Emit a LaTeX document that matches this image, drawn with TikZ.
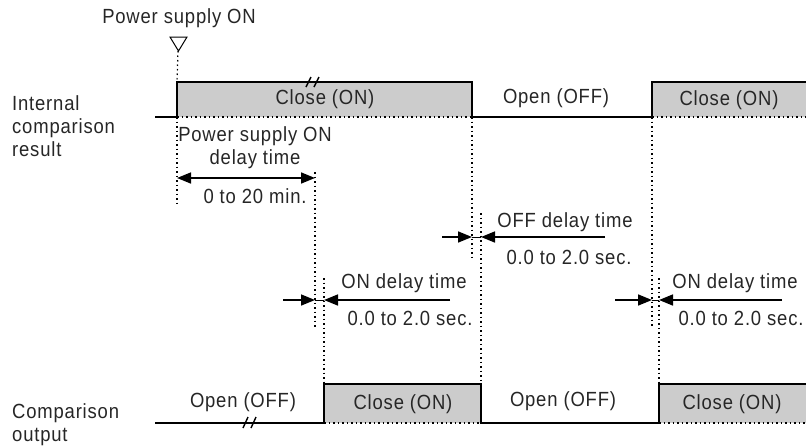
\documentclass[tikz,border=0pt]{standalone}
\usepackage{fontspec}
\setmainfont{Liberation Sans}[FakeStretch=0.9,LetterSpace=4]
\usetikzlibrary{arrows.meta}
\begin{document}
\begin{tikzpicture}[x=1pt,y=-1pt,
  sig/.style={line width=1.8pt,line join=miter},
  dots/.style={line width=1.2pt,dash pattern=on 1.5pt off 3pt},
  box/.style={fill=gray!40,draw=none},
  arr/.style={line width=1.6pt,-{Triangle[length=14pt,width=11pt]}},
  dbl/.style={line width=1.6pt,{Triangle[length=14pt,width=11pt]}-{Triangle[length=14pt,width=11pt]}},
  thin/.style={line width=1pt},
  brk/.style={line width=1.4pt},
  lbl/.style={font=\fontsize{20.5}{23}\selectfont,inner sep=0pt,text=black!85},
  lft/.style={lbl,anchor=west,align=left}]
\useasboundingbox (0,0) rectangle (806,445);
% coordinates
\coordinate (tL) at (155,117);
\coordinate (t1b) at (177,117); \coordinate (t1h) at (177,82);
\coordinate (t2h) at (472,82); \coordinate (t2b) at (472,117);
\coordinate (t3b) at (652,117); \coordinate (t3h) at (652,82);
\coordinate (tRh) at (806,82); \coordinate (tRb) at (806,117);
\coordinate (bL) at (155,423);
\coordinate (b1b) at (324,423); \coordinate (b1h) at (324,384);
\coordinate (b2h) at (481,384); \coordinate (b2b) at (481,423);
\coordinate (b3b) at (659,423); \coordinate (b3h) at (659,384);
\coordinate (bRh) at (806,384); \coordinate (bRb) at (806,423);
% gray boxes
\fill[box] (t1h) rectangle (t2b);
\fill[box] (t3h) rectangle (tRb);
\fill[box] (b1h) rectangle (b2b);
\fill[box] (b3h) rectangle (bRb);
\draw[dots] (t1b) -- (t2b);
\draw[dots] (t3b) -- (tRb);
\draw[dots] (b1b) -- (b2b);
\draw[dots] (b3b) -- (bRb);
% signals
\draw[sig] (tL) -- (t1b) -- (t1h) -- (t2h) -- (t2b) -- (t3b) -- (t3h) -- (tRh);
\draw[sig] (bL) -- (b1b) -- (b1h) -- (b2h) -- (b2b) -- (b3b) -- (b3h) -- (bRh);
% break marks
\draw[brk] (306,87) -- (311,77) (314,87) -- (319,77);
\draw[brk] (243,428) -- (248,417) (251,428) -- (256,417);
% power on marker
\node[lbl] (pwr) at (179,18) {Power supply ON};
\draw[line width=1pt] (170,37) -- (187,37) -- (178.5,51) -- cycle;
\coordinate (tri) at (178,51);
% dotted verticals
\coordinate (v0e) at (177,205);
\draw[dots] (tri) -- (t1h);
\draw[dots] (t1b) -- (v0e);
\coordinate (v1a) at (315,172); \coordinate (v1e) at (315,327);
\coordinate (v2a) at (324,278);
\draw[dots] (v1a) -- (v1e);
\draw[dots] (v2a) -- (b1h);
\coordinate (v3e) at (472,260);
\coordinate (v4a) at (481,213);
\draw[dots] (t2b) -- (v3e);
\draw[dots] (v4a) -- (b2h);
\coordinate (v5e) at (652,327);
\coordinate (v6a) at (659,278);
\draw[dots] (t3b) -- (v5e);
\draw[dots] (v6a) -- (b3h);
% power-on delay
\coordinate (pa) at (177,178); \coordinate (pb) at (315,178);
\draw[dbl] (pa) -- (pb);
\node[lbl,align=center] (pdt) at (255,148) {Power supply ON\\delay time};
\node[lbl] (pdv) at (255,196) {0 to 20 min.};
% ON delay 1
\coordinate (o1a) at (283,300); \coordinate (o1b) at (315,300);
\coordinate (o1c) at (324,300); \coordinate (o1d) at (450,300);
\draw[arr] (o1a) -- (o1b);
\draw[thin] (o1b) -- (o1c);
\draw[arr] (o1d) -- (o1c);
\node[lbl] (o1t) at (404,283) {ON delay time};
\node[lbl] (o1v) at (410,318) {0.0 to 2.0 sec.};
% OFF delay
\coordinate (fa) at (442,237); \coordinate (fb) at (472,237);
\coordinate (fc) at (481,237); \coordinate (fd) at (605,237);
\draw[arr] (fa) -- (fb);
\draw[thin] (fb) -- (fc);
\draw[arr] (fd) -- (fc);
\node[lbl] (ft) at (565,222) {OFF delay time};
\node[lbl] (fv) at (569,257) {0.0 to 2.0 sec.};
% ON delay 2
\coordinate (o2a) at (615,300); \coordinate (o2b) at (652,300);
\coordinate (o2c) at (659,300); \coordinate (o2d) at (782,300);
\draw[arr] (o2a) -- (o2b);
\draw[thin] (o2b) -- (o2c);
\draw[arr] (o2d) -- (o2c);
\node[lbl] (o2t) at (735,283) {ON delay time};
\node[lbl] (o2v) at (741,318) {0.0 to 2.0 sec.};
% row labels
\node[lft] (icr) at (12,126) {Internal\\comparison\\result};
\node[lft] (co) at (12,425) {Comparison\\output};
% state labels
\node[lbl] (s1) at (325,99) {Close (ON)};
\node[lbl] (s2) at (556,98) {Open (OFF)};
\node[lbl] (s3) at (729,100) {Close (ON)};
\node[lbl] (s4) at (243,402) {Open (OFF)};
\node[lbl] (s5) at (403,404) {Close (ON)};
\node[lbl] (s6) at (563,401) {Open (OFF)};
\node[lbl] (s7) at (732,404) {Close (ON)};
\end{tikzpicture}
\end{document}
